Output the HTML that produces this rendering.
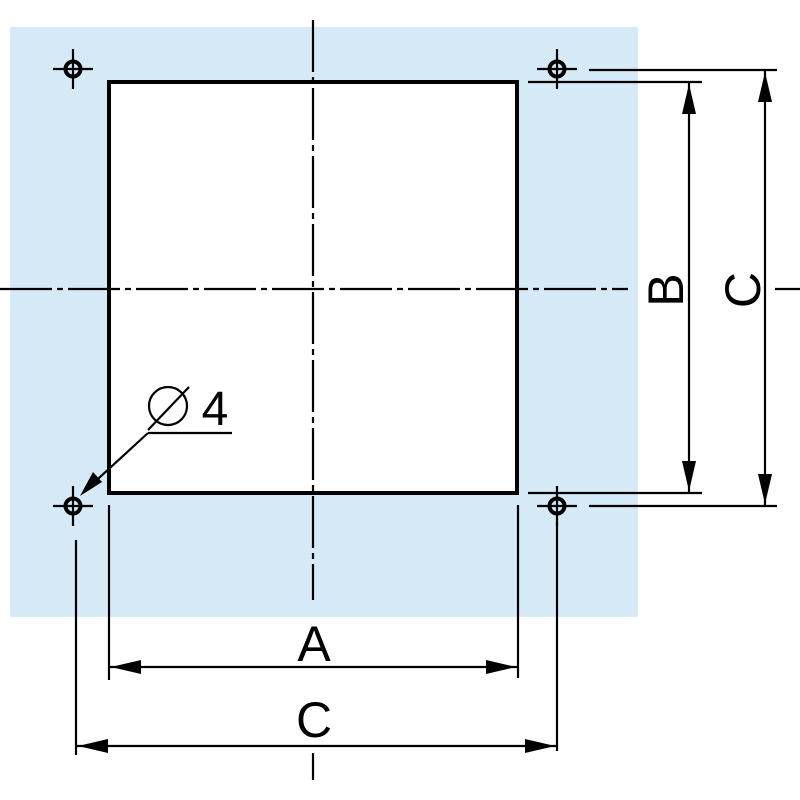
<!DOCTYPE html>
<html><head><meta charset="utf-8"><style>html,body{margin:0;padding:0;background:#fff}svg{display:block}</style></head>
<body>
<svg width="800" height="800" viewBox="0 0 800 800" xmlns="http://www.w3.org/2000/svg" font-family="Liberation Sans, sans-serif">
<rect x="10" y="27" width="628" height="590" fill="#d5e9f7"/>
<rect x="109" y="82" width="408" height="411" fill="#fff" stroke="#000" stroke-width="4"/>
<g stroke="#000" stroke-width="2.2" fill="none" stroke-dasharray="52 5 6 5">
<line x1="313" y1="20" x2="313" y2="600"/>
<line x1="0" y1="289" x2="628" y2="289"/>
</g>
<line x1="313" y1="753" x2="313" y2="780" stroke="#000" stroke-width="2.2"/>
<line x1="775" y1="289" x2="800" y2="289" stroke="#000" stroke-width="2.2"/>
<g stroke="#000" fill="none">
<g stroke-width="2.2">
<line x1="53" y1="69" x2="93" y2="69"/><line x1="73" y1="49" x2="73" y2="89"/>
<line x1="537" y1="69" x2="577" y2="69"/><line x1="557" y1="49" x2="557" y2="89"/>
<line x1="53" y1="506" x2="93" y2="506"/><line x1="73" y1="486" x2="73" y2="526"/>
<line x1="537" y1="506" x2="577" y2="506"/><line x1="557" y1="486" x2="557" y2="526"/>
</g>
<g stroke-width="4">
<circle cx="73" cy="69" r="7.5"/>
<circle cx="557" cy="69" r="7.5"/>
<circle cx="73" cy="506" r="7.5"/>
<circle cx="557" cy="506" r="7.5"/>
</g>
<g stroke-width="2.2">
<line x1="528" y1="82" x2="702" y2="82"/>
<line x1="589" y1="70" x2="777" y2="70"/>
<line x1="528" y1="493" x2="702" y2="493"/>
<line x1="589" y1="506" x2="777" y2="506"/>
<line x1="689" y1="82" x2="689" y2="493"/>
<line x1="765" y1="70" x2="765" y2="506"/>
<line x1="109" y1="505" x2="109" y2="680"/>
<line x1="518" y1="505" x2="518" y2="678"/>
<line x1="76" y1="540" x2="76" y2="755"/>
<line x1="557" y1="522" x2="557" y2="751"/>
<line x1="109" y1="667" x2="518" y2="667"/>
<line x1="76" y1="746" x2="557" y2="746"/>
<line x1="232" y1="433" x2="148" y2="433"/>
<line x1="148" y1="433" x2="88" y2="488"/>
<circle cx="168" cy="406" r="19"/>
<line x1="148" y1="430" x2="189" y2="387"/>
</g>
</g>
<g fill="#000">
<polygon points="689,84 682,114 696,114"/>
<polygon points="689,491 682,461 696,461"/>
<polygon points="765,72 758,102 772,102"/>
<polygon points="765,504 758,474 772,474"/>
<polygon points="111,667 141,660 141,674"/>
<polygon points="516,667 486,660 486,674"/>
<polygon points="78,746 108,739 108,753"/>
<polygon points="555,746 525,739 525,753"/>
<polygon points="80,496 93,472 102,482"/>
</g>
<g font-size="50" fill="#000" text-anchor="middle">
<text x="314" y="661">A</text>
<text x="314" y="737">C</text>
<text x="683" y="290" transform="rotate(-90 683 290)">B</text>
<text x="760" y="290" transform="rotate(-90 760 290)">C</text>
<text x="215" y="425" font-size="48">4</text>
</g>
</svg>
</body></html>
